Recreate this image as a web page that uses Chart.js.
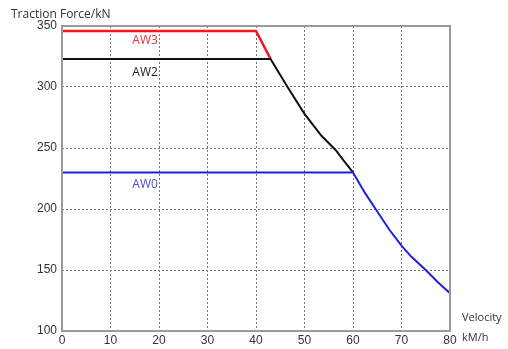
<!DOCTYPE html>
<html>
<head>
<meta charset="utf-8">
<script src="https://cdn.jsdelivr.net/npm/chart.js@4"></script>
<style>
  html, body { margin: 0; padding: 0; background: #fff; }
  #wrap { width: 508px; height: 349px; position: relative; }
</style>
</head>
<body>
<div id="wrap"><canvas id="tractionChart"></canvas></div>
<script>
// Traction curves (velocity km/h -> force kN)
const aw3Velocity = [0, 40, 43];
const aw3Force = [346, 346, 323];
const aw2Velocity = [0, 43, 46.5, 50, 53.5, 56.5, 58, 60];
const aw2Force = [323, 323, 300, 278, 260, 248, 240, 230];
const aw0Velocity = [0, 60, 62.5, 65, 67.5, 70, 72, 75, 77.5, 80];
const aw0Force = [230, 230, 213, 198, 183, 170, 161, 150, 140, 131];

const xTicks = [0, 10, 20, 30, 40, 50, 60, 70, 80];
const yTicks = [100, 150, 200, 250, 300, 350];

// curve names, placed in data coordinates
const curveLabels = [
    { text: 'AW3', x: 14.5, y: 338, color: '#e8303a' },
    { text: 'AW2', x: 14.5, y: 312, color: '#222222' },
    { text: 'AW0', x: 14.5, y: 220, color: '#4b4fd0' }
];

function toPoints(xs, ys) {
    return xs.map((x, i) => ({ x: x, y: ys[i] }));
}

// frame around plot area + text labels
const framePlugin = {
    id: 'frame',
    afterDraw(chart) {
        const { ctx, chartArea: a, scales } = chart;
        ctx.save();
        ctx.strokeStyle = '#9a9a9a';
        ctx.lineWidth = 2;
        ctx.strokeRect(a.left, a.top, a.right - a.left, a.bottom - a.top);

        ctx.font = '12px "Open Sans", "Liberation Sans", sans-serif';
        ctx.textBaseline = 'middle';
        curveLabels.forEach(l => {
            ctx.fillStyle = l.color;
            ctx.fillText(l.text, scales.x.getPixelForValue(l.x), scales.y.getPixelForValue(l.y));
        });

        ctx.fillStyle = '#333';
        ctx.font = '12px "Open Sans", "Liberation Sans", sans-serif';
        ctx.textBaseline = 'alphabetic';
        ctx.fillText('Traction Force/kN', 11, 18);
        ctx.font = '11px "Open Sans", "Liberation Sans", sans-serif';
        ctx.fillText('Velocity', 462, 321);
        ctx.fillText('kM/h', 462, 341);
        ctx.restore();
    }
};

const ctx = document.getElementById('tractionChart');
new Chart(ctx.getContext('2d'), {
    type: 'line',
    data: {
        datasets: [
            {
                label: 'AW0',
                data: toPoints(aw0Velocity, aw0Force),
                borderColor: '#2020e0',
                borderWidth: 2,
                pointRadius: 0,
                tension: 0
            },
            {
                label: 'AW2',
                data: toPoints(aw2Velocity, aw2Force),
                borderColor: '#111111',
                borderWidth: 2,
                pointRadius: 0,
                tension: 0
            },
            {
                label: 'AW3',
                data: toPoints(aw3Velocity, aw3Force),
                borderColor: '#f01818',
                borderWidth: 2.5,
                pointRadius: 0,
                tension: 0
            }
        ]
    },
    options: {
        responsive: true,
        maintainAspectRatio: false,
        animation: false,
        layout: {
            padding: { top: 26, right: 58, left: 0, bottom: 0 }
        },
        plugins: {
            legend: { display: false },
            tooltip: { enabled: false }
        },
        scales: {
            x: {
                type: 'linear',
                min: xTicks[0],
                max: xTicks[xTicks.length - 1],
                afterBuildTicks: axis => { axis.ticks = xTicks.map(v => ({ value: v })); },
                afterFit: axis => { axis.height = 18; },
                grid: {
                    color: '#777',
                    lineWidth: 1,
                    drawTicks: false
                },
                border: { display: false, dash: [2, 2] },
                ticks: {
                    color: '#333',
                    padding: 2,
                    maxRotation: 0,
                    font: { family: '"Liberation Sans", Arial, sans-serif', size: 12 }
                }
            },
            y: {
                min: yTicks[0],
                max: yTicks[yTicks.length - 1],
                afterBuildTicks: axis => { axis.ticks = yTicks.map(v => ({ value: v })); },
                afterFit: axis => { axis.width = 62; },
                grid: {
                    color: '#777',
                    lineWidth: 1,
                    drawTicks: false
                },
                border: { display: false, dash: [2, 2] },
                ticks: {
                    color: '#333',
                    padding: 5,
                    font: { family: '"Liberation Sans", Arial, sans-serif', size: 12 }
                }
            }
        }
    },
    plugins: [framePlugin]
});
</script>
</body>
</html>
